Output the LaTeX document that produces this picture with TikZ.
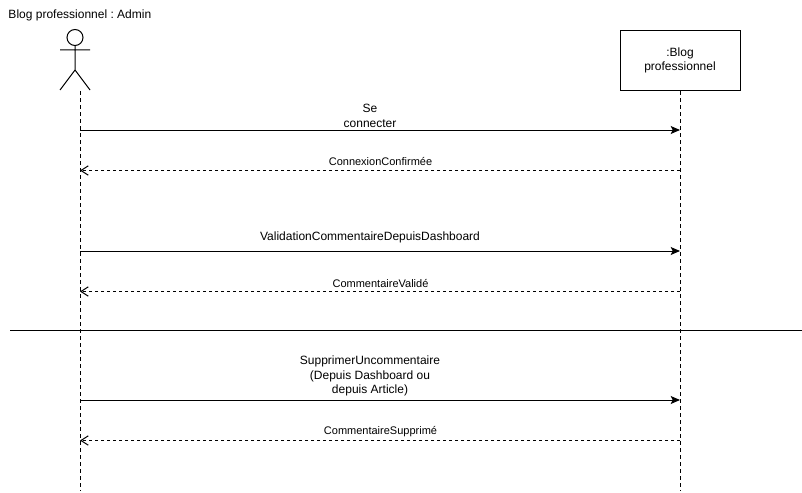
\documentclass[tikz,border=0pt]{standalone}
\usepackage{fontspec}
\setmainfont{Liberation Sans}
\frenchspacing
\usetikzlibrary{arrows.meta}
\begin{document}
\begin{tikzpicture}[x=0.75pt,y=-0.75pt,line width=0.75pt,
            main node/.style={font=\fontsize{9}{11}\selectfont,align=center,inner sep=0pt},
            small node/.style={font=\fontsize{8.25}{9.5}\selectfont,inner sep=0pt},
            box node/.style={draw,main node,minimum width=90pt,minimum height=45pt},
            lifeline/.style={dash pattern=on 3pt off 2.25pt},
            call/.style={-{Stealth[length=7pt,width=6pt,inset=1.5pt]}},
            reply/.style={dash pattern=on 2.25pt off 2.25pt,-{Straight Barb[length=5.5pt,width=7pt]}}]
        \useasboundingbox (0,0) rectangle (802,492);

        % Define vertices
        \node[main node,anchor=west] (title) at (8,15.5) {Blog professionnel : Admin};
        \node[box node] (blog) at (680,60.5) {:Blog\\professionnel};
        \coordinate (admin) at (80,91);
        \coordinate (adminend) at (80,491);
        \coordinate (blogend) at (680,491);
        \foreach \name/\y in {a/130,b/170.5,c/251,d/291.5,e/400,f/440.5} {
            \coordinate (admin\name) at (80,\y);
            \coordinate (blog\name) at (680,\y);
        }
        \coordinate (sepleft) at (10,330);
        \coordinate (sepright) at (802,330);

        % Draw the actor
        \node[draw,circle,minimum size=12pt,inner sep=0pt] (head) at (75,37.5) {};
        \coordinate (hip) at (75,70);
        \coordinate (armleft) at (60,50);
        \coordinate (armright) at (90,50);
        \coordinate (footleft) at (60,90);
        \coordinate (footright) at (90,90);
        \draw (head) -- (hip) (armleft) -- (armright) (footleft) -- (hip) -- (footright);

        % Draw edges
        \path (admin) edge[lifeline] (adminend)
            (blog) edge[lifeline] (blogend)
            (sepleft) edge (sepright)
            (admina) edge[call] (bloga)
            (blogb) edge[reply] (adminb)
            (adminc) edge[call] (blogc)
            (blogd) edge[reply] (admind)
            (admine) edge[call] (bloge)
            (blogf) edge[reply] (adminf);

        % Message labels
        \node[main node] (seconnecter) at (370,116) {Se\\connecter};
        \node[small node] (confirmee) at (380.5,162) {ConnexionConfirmée};
        \node[main node] (validation) at (370,237) {ValidationCommentaireDepuisDashboard};
        \node[small node] (valide) at (380.5,283.5) {CommentaireValidé};
        \node[main node] (supprimer) at (370,376) {SupprimerUncommentaire\\(Depuis Dashboard ou\\depuis Article)};
        \node[small node] (supprime) at (380.5,431.5) {CommentaireSupprimé};
\end{tikzpicture}
\end{document}
